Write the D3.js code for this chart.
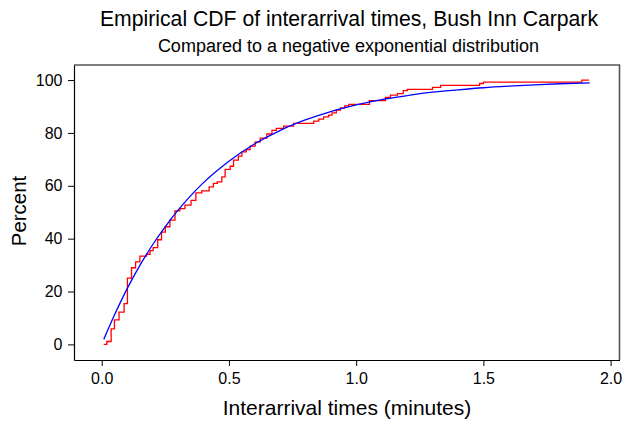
<!DOCTYPE html>
<html>
<head>
<meta charset="utf-8">
<script src="https://cdn.jsdelivr.net/npm/d3@7"></script>
<style>
  html, body { margin: 0; padding: 0; background: #fff; }
  svg { display: block; font-family: "Liberation Sans", Arial, Helvetica, sans-serif; }
</style>
</head>
<body>
<svg id="chart" width="625" height="421"></svg>
<script>
// Empirical CDF (red): jump positions (minutes) and percent after each jump
const ecdfTimes = [0.008, 0.020, 0.037, 0.050, 0.068, 0.088, 0.101, 0.117, 0.133, 0.150,
  0.176, 0.190, 0.202, 0.220, 0.235, 0.250, 0.268, 0.288, 0.307, 0.327,
  0.351, 0.370, 0.393, 0.422, 0.439, 0.454, 0.472, 0.485, 0.505, 0.518,
  0.537, 0.551, 0.568, 0.583, 0.603, 0.623, 0.649, 0.669, 0.686, 0.715,
  0.754, 0.833, 0.853, 0.872, 0.892, 0.905, 0.922, 0.938, 0.955, 0.971,
  1.052, 1.115, 1.135, 1.162, 1.185, 1.201, 1.300, 1.332, 1.485, 1.500,
  1.887, 1.915];
const ecdfPercent = [0, 1.1, 5.9, 9.3, 12.2, 15.4, 25.1, 29.0, 31.2, 33.4,
  34.1, 35.5, 36.6, 39.6, 42.5, 44.5, 47.0, 50.5, 51.4, 52.7,
  54.5, 57.3, 58.1, 59.6, 60.9, 61.5, 63.4, 66.2, 67.4, 69.7,
  71.2, 72.8, 73.7, 75.0, 76.6, 78.0, 79.6, 81.0, 81.7, 82.6,
  83.6, 84.5, 85.2, 86.1, 86.7, 87.6, 88.6, 89.5, 90.2, 90.8,
  92.2, 93.4, 94.3, 94.9, 96.0, 96.5, 97.2, 98.0, 98.7, 99.2,
  100, 100];

// Negative exponential CDF (blue)
const expTimes = [0.008, 0.05, 0.10, 0.15, 0.20, 0.25, 0.30, 0.35, 0.40, 0.50,
  0.60, 0.70, 0.80, 0.90, 1.00, 1.10, 1.20, 1.30, 1.40, 1.50,
  1.60, 1.70, 1.80, 1.918];
const expPercent = [1.9, 11.1, 21.1, 29.9, 37.7, 44.6, 50.8, 56.3, 61.2, 69.3,
  75.8, 80.9, 84.9, 88.1, 90.6, 92.6, 94.1, 95.4, 96.3, 97.1,
  97.7, 98.2, 98.6, 98.9];

const xTicks = [0.0, 0.5, 1.0, 1.5, 2.0];
const yTicks = [0, 20, 40, 60, 80, 100];

const title = "Empirical CDF of interarrival times, Bush Inn Carpark";
const subtitle = "Compared to a negative exponential distribution";
const xTitle = "Interarrival times (minutes)";
const yTitle = "Percent";

const svg = d3.select("#chart");
const L = 74, R = 619.5, T = 65, B = 360;

const x = d3.scaleLinear().domain([-0.109, 2.035]).range([L, R]);
const y = d3.scaleLinear().domain([-5.9, 105.7]).range([B, T]);

// box (top / right)
svg.append("path")
  .attr("d", `M${L},${T}H${R}V${B}`)
  .attr("fill", "none").attr("stroke", "#555").attr("stroke-width", 1.6);

// axes
const xAxis = svg.append("g").attr("transform", `translate(0,${B})`)
  .call(d3.axisBottom(x).tickValues(xTicks).tickFormat(d3.format(".1f")).tickSize(6).tickSizeOuter(0).tickPadding(5));
const yAxis = svg.append("g").attr("transform", `translate(${L},0)`)
  .call(d3.axisLeft(y).tickValues(yTicks).tickSize(6).tickSizeOuter(0).tickPadding(5.5));
[xAxis, yAxis].forEach(g => {
  g.select(".domain").attr("stroke", "#000").attr("stroke-width", 1.2);
  g.selectAll(".tick line").attr("stroke", "#000").attr("stroke-width", 1);
  g.selectAll(".tick text").attr("fill", "#000")
    .style("font-size", "16px").style("font-family", "Liberation Sans, Arial, sans-serif");
});
xAxis.selectAll(".tick text").attr("dy", "0.8em");

// lines
const ecdf = ecdfTimes.map((t, i) => [t, ecdfPercent[i]]);
const expo = expTimes.map((t, i) => [t, expPercent[i]]);

svg.append("path").datum(ecdf)
  .attr("fill", "none").attr("stroke", "#ff0000").attr("stroke-width", 1.3)
  .attr("d", d3.line().x(d => x(d[0])).y(d => y(d[1])).curve(d3.curveStepAfter));

svg.append("path").datum(expo)
  .attr("fill", "none").attr("stroke", "#0000ff").attr("stroke-width", 1.3)
  .attr("d", d3.line().x(d => x(d[0])).y(d => y(d[1])).curve(d3.curveMonotoneX));

// titles
svg.append("text").attr("x", 349).attr("y", 26).attr("text-anchor", "middle")
  .style("font-size", "21.2px").attr("fill", "#000").text(title);
svg.append("text").attr("x", 348.5).attr("y", 52).attr("text-anchor", "middle")
  .style("font-size", "18px").attr("fill", "#000").text(subtitle);
svg.append("text").attr("x", 347).attr("y", 415).attr("text-anchor", "middle")
  .style("font-size", "21px").attr("fill", "#000").text(xTitle);
svg.append("text").attr("transform", `translate(26,211) rotate(-90)`)
  .attr("text-anchor", "middle")
  .style("font-size", "20.4px").attr("fill", "#000").text(yTitle);
</script>
</body>
</html>
